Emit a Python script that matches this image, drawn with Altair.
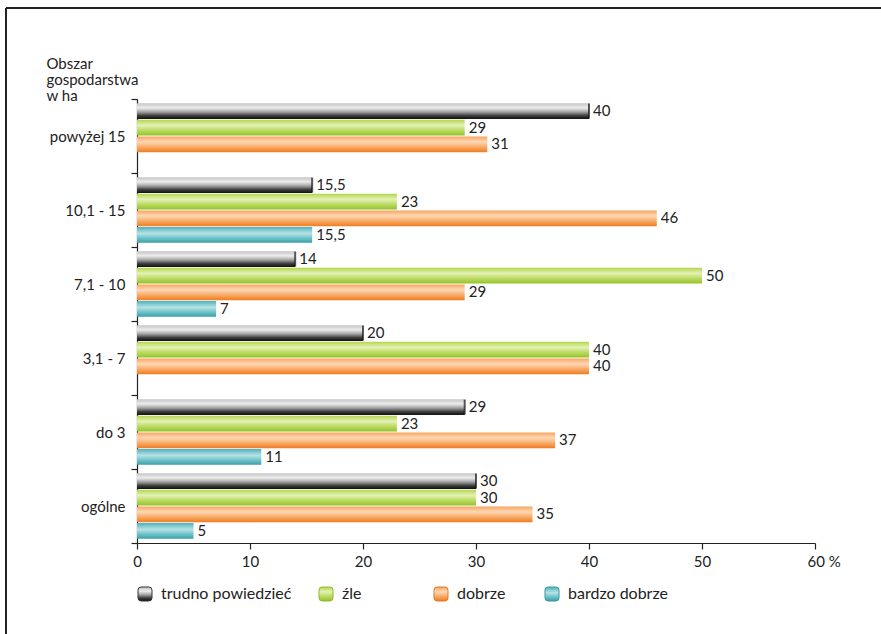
import altair as alt
import pandas as pd

categories = ["powyżej 15", "10,1 - 15", "7,1 - 10", "3,1 - 7", "do 3", "ogólne"]
series = ["trudno powiedzieć", "źle", "dobrze", "bardzo dobrze"]
trudno = [40, 15.5, 14, 20, 29, 30]
zle = [29, 23, 50, 40, 23, 30]
dobrze = [31, 46, 29, 40, 37, 35]
bardzo = [None, 15.5, 7, None, 11, 5]
x_ticks = [0, 10, 20, 30, 40, 50, 60]

rows = []
for s, vals in zip(series, [trudno, zle, dobrze, bardzo]):
    for c, v in zip(categories, vals):
        if v is not None:
            rows.append({"cat": c, "series": s, "value": v})
df = pd.DataFrame(rows)

FONT = "Lato"
INK = "#222222"

stops = {
    "trudno powiedzieć": [(0, "#c4c4c4"), (0.3, "#ededed"), (0.55, "#a4a4a4"), (0.8, "#3a3a3a"), (1, "#111111")],
    "źle": [(0, "#b5d64c"), (0.35, "#e3f1b6"), (0.65, "#bfdc66"), (1, "#93c22a")],
    "dobrze": [(0, "#f8a45c"), (0.35, "#fdd8b7"), (0.65, "#f9ad6a"), (1, "#ef7c22")],
    "bardzo dobrze": [(0, "#4cb2bb"), (0.4, "#b7e2e5"), (0.7, "#6ec4cb"), (1, "#3a9da6")],
}
edge = {"trudno powiedzieć": "#333333", "źle": "#8fbb2a", "dobrze": "#e8761c", "bardzo dobrze": "#3a98a0"}


def grad_expr(st):
    stop_txt = ",".join("{offset:%s,color:'%s'}" % (o, c) for o, c in st)
    return "{gradient:'linear',x1:0,y1:0,x2:0,y2:1,stops:[%s]}" % stop_txt


stroke_signal = "'#555555'"
for s in reversed(series):
    stroke_signal = f"datum.value == '{s}' ? '{edge[s]}' : ({stroke_signal})"

y_enc = alt.Y(
    "cat:N",
    sort=categories,
    scale=alt.Scale(domain=categories, paddingInner=0, paddingOuter=0),
    axis=alt.Axis(
        title=["Obszar", "gospodarstwa", "w ha"],
        titleAngle=0, titleAlign="left", titleBaseline="alphabetic",
        titleX=-91, titleY=-31, titleFontSize=15, titleFontWeight="normal",
        titleLineHeight=16, titleColor=INK, titleFont=FONT,
        labelFontSize=15, labelColor=INK, labelFont=FONT, labelPadding=6,
        tickBand="extent", tickSize=6, tickColor=INK, tickWidth=1.2,
        domainColor=INK, domainWidth=1.2, grid=False,
    ),
)
yoff_enc = alt.YOffset(
    "series:N",
    sort=series,
    scale=alt.Scale(domain=series, paddingInner=0.05, paddingOuter=0.25),
)
x_enc = alt.X(
    "value:Q",
    scale=alt.Scale(domain=[0, 60], nice=False, zero=True),
    axis=alt.Axis(
        title=None, values=x_ticks, grid=False,
        labelFontSize=15, labelColor=INK, labelFont=FONT, labelPadding=5,
        labelExpr="datum.value == 60 ? '60 %' : datum.label",
        labelAlign={"condition": {"test": "datum.value == 60", "value": "left"}, "value": "center"},
        labelOffset={"condition": {"test": "datum.value == 60", "value": -8}, "value": 0},
        tickSize=6, tickColor=INK, tickWidth=1.2, domainColor=INK, domainWidth=1.2,
    ),
)

base = alt.Chart(df).encode(y=y_enc, yOffset=yoff_enc, x=x_enc)

# legend entries are padded with no-break spaces (closed by a zero-width space so
# that the padding survives trimming) to reproduce the reference's tab stops
NB = "\u00a0"
ZW = "\u200b"
pads = {"trudno powiedzieć": 6, "źle": 17, "dobrze": 9, "bardzo dobrze": 0}
label_expr = "datum.label"
for name, n in pads.items():
    label_expr = f"datum.label == '{name}' ? '{name}{NB * n}{ZW}' : ({label_expr})"

rounded = "M-1,-0.55 Q-1,-1 -0.55,-1 L0.55,-1 Q1,-1 1,-0.55 L1,0.55 Q1,1 0.55,1 L-0.55,1 Q-1,1 -1,0.55 Z"

bars = base.mark_bar().encode(
    color=alt.Color(
        "series:N",
        sort=series,
        scale=alt.Scale(domain=series, range=[{"expr": grad_expr(stops[s])} for s in series]),
        legend=alt.Legend(
            orient="none", legendX=0, legendY=487, direction="horizontal",
            title=None, symbolType=rounded, symbolSize=196, symbolOpacity=1,
            symbolStrokeWidth=1, symbolStrokeColor={"expr": stroke_signal},
            labelFontSize=16, labelColor=INK, labelFont=FONT, labelOffset=8,
            labelLimit=400, columnPadding=0, padding=0,
            labelExpr=label_expr,
        ),
    )
)

cap = base.transform_filter(alt.datum.series == series[0]).mark_tick(
    color="#111111", thickness=2, size=15
)

labels = base.transform_calculate(
    label="replace(toString(datum.value), '.', ',')"
).mark_text(align="left", baseline="middle", dx=4, fontSize=15, color=INK, font=FONT).encode(
    text="label:N"
)

one = alt.Data(values=[{"k": 1}])
frame_top = alt.Chart(one).mark_rule(color=INK, strokeWidth=2).encode(
    x=alt.value(-131), x2=alt.value(900), y=alt.value(-91)
)
frame_left = alt.Chart(one).mark_rule(color=INK, strokeWidth=2).encode(
    x=alt.value(-131), y=alt.value(-91), y2=alt.value(700)
)

chart = alt.layer(
    bars, cap, labels, frame_top, frame_left
).properties(
    width=678,
    height=444,
    padding={"left": 137, "top": 99, "right": 66, "bottom": 91},
    autosize=alt.AutoSizeParams(type="none"),
    background="white",
).configure(font=FONT, view=alt.ViewConfig(stroke=None))

chart.save("out.html", embed_options={"renderer": "svg", "actions": False})
